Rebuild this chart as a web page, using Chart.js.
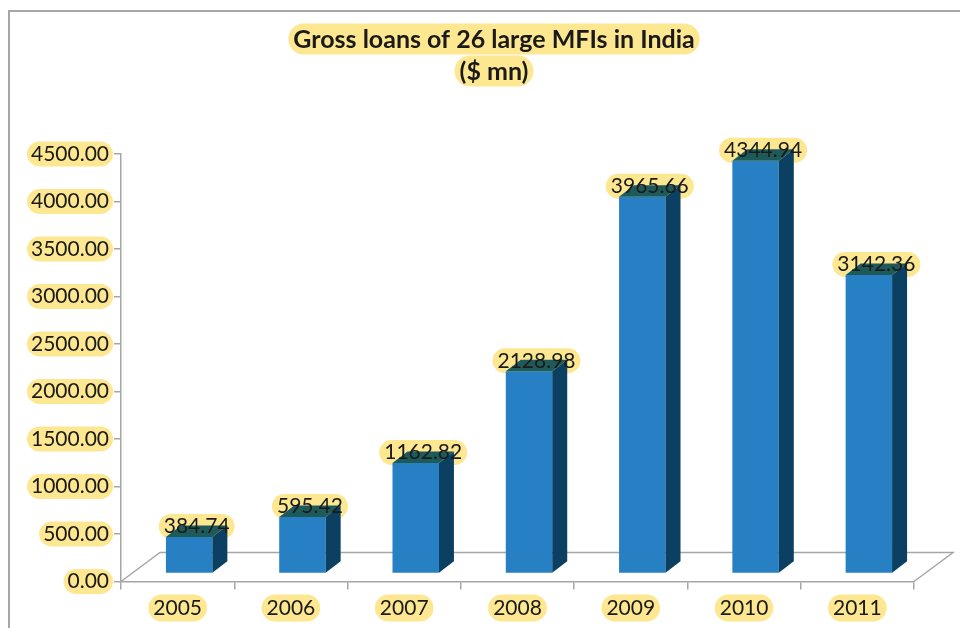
<!DOCTYPE html>
<html lang="en">
<head>
<meta charset="UTF-8">
<title>Gross loans of 26 large MFIs in India</title>
<style>
  body { margin: 0; background: #fff; }
  #wrap { width: 960px; height: 628px; }
</style>
</head>
<body>
<div id="wrap"><canvas id="loansChart" width="960" height="628"></canvas></div>
<script src="https://cdn.jsdelivr.net/npm/chart.js"></script>
<script>
// data
const years = ['2005', '2006', '2007', '2008', '2009', '2010', '2011'];
const grossLoans = [384.74, 595.42, 1162.82, 2128.98, 3965.66, 4344.94, 3142.36];
const yTicks = [0, 500, 1000, 1500, 2000, 2500, 3000, 3500, 4000, 4500];
const titleLines = ['Gross loans of 26 large MFIs in India', '($ mn)'];

const FONT = 'Lato, "Noto Sans", sans-serif';
const PILL = 'rgba(253, 231, 145, 1)';
const GREY = '#a6a6a6';
// 3d offsets
const SHIFT = { x: 11.5, y: -8 };
const DEPTH = { x: 15, y: -11.5 };
const FLOOR = { x: 39, y: -29 };

function pill(ctx, cx, cy, w, h) {
  const r = h / 2;
  ctx.beginPath();
  ctx.roundRect(cx - w / 2, cy - h / 2, w, h, r);
  ctx.fillStyle = PILL;
  ctx.fill();
}

const fancy = {
  id: 'fancy',
  beforeDraw(chart) {
    const ctx = chart.ctx;
    const area = chart.chartArea;
    const xs = chart.scales.x, ys = chart.scales.y;
    ctx.save();
    // outer frame
    ctx.strokeStyle = GREY;
    ctx.lineWidth = 2;
    ctx.strokeRect(9, 11, 1200, 1200);

    // title
    ctx.font = 'bold 25px ' + FONT;
    ctx.textAlign = 'center';
    ctx.textBaseline = 'middle';
    const tx = 494;
    titleLines.forEach((t, i) => {
      const w = ctx.measureText(t).width;
      pill(ctx, tx, 39 + i * 32, w + 10, 31);
    });
    ctx.fillStyle = '#1a1a1a';
    titleLines.forEach((t, i) => ctx.fillText(t, tx, 40 + i * 32));

    // pills behind tick labels
    ctx.font = '21px ' + FONT;
    ys.ticks.forEach((t, i) => {
      const w = ctx.measureText(t.label).width;
      const px = ys.getPixelForTick(i);
      pill(ctx, area.left - 12 - w / 2, px, w + 8, 25);
    });
    xs.ticks.forEach((t, i) => {
      const w = ctx.measureText(t.label).width;
      pill(ctx, xs.getPixelForTick(i), 608, w + 10, 27);
    });

    // floor
    const y0 = ys.getPixelForValue(0);
    ctx.strokeStyle = GREY;
    ctx.lineWidth = 1.5;
    ctx.beginPath();
    ctx.moveTo(area.left, y0);
    ctx.lineTo(area.left + FLOOR.x, y0 + FLOOR.y);
    ctx.lineTo(area.right + FLOOR.x, y0 + FLOOR.y);
    ctx.lineTo(area.right, y0);
    ctx.stroke();
    ctx.restore();
  },
  beforeDatasetsDraw(chart) {
    const ctx = chart.ctx;
    ctx.save();
    ctx.translate(SHIFT.x, SHIFT.y);
    ctx.font = '21px ' + FONT;
    chart.getDatasetMeta(0).data.forEach((bar, i) => {
      const txt = grossLoans[i].toFixed(2);
      const w = ctx.measureText(txt).width;
      pill(ctx, bar.x + DEPTH.x / 2, bar.y + DEPTH.y + 1, w + 10, 25);
    });
  },
  afterDatasetsDraw(chart) {
    const ctx = chart.ctx;
    chart.getDatasetMeta(0).data.forEach((bar) => {
      const l = bar.x - bar.width / 2, r = bar.x + bar.width / 2;
      const t = bar.y, b = bar.base;
      // side
      ctx.beginPath();
      ctx.moveTo(r, t);
      ctx.lineTo(r + DEPTH.x, t + DEPTH.y);
      ctx.lineTo(r + DEPTH.x, b + DEPTH.y);
      ctx.lineTo(r, b);
      ctx.closePath();
      ctx.fillStyle = '#0c4063';
      ctx.fill();
      // top
      ctx.beginPath();
      ctx.moveTo(l, t);
      ctx.lineTo(l + DEPTH.x, t + DEPTH.y);
      ctx.lineTo(r + DEPTH.x, t + DEPTH.y);
      ctx.lineTo(r, t);
      ctx.closePath();
      ctx.fillStyle = '#1f5a5b';
      ctx.fill();
    });
    // value labels
    ctx.font = '21px ' + FONT;
    ctx.textAlign = 'center';
    ctx.textBaseline = 'middle';
    ctx.fillStyle = '#1a1a1a';
    chart.getDatasetMeta(0).data.forEach((bar, i) => {
      ctx.fillText(grossLoans[i].toFixed(2), bar.x + DEPTH.x / 2, bar.y + DEPTH.y + 1);
    });
    ctx.restore();
  }
};

new Chart(document.getElementById('loansChart'), {
  type: 'bar',
  data: {
    labels: years,
    datasets: [{
      label: 'Gross loans',
      data: grossLoans,
      backgroundColor: '#2780c3',
      borderWidth: 0,
      categoryPercentage: 1,
      barPercentage: 0.41
    }]
  },
  options: {
    responsive: false,
    animation: false,
    layout: { padding: { top: 154, right: 46, bottom: 0, left: 0 } },
    plugins: {
      legend: { display: false },
      title: { display: false },
      tooltip: { enabled: false }
    },
    scales: {
      x: {
        offset: true,
        grid: { offset: true, drawOnChartArea: false, color: GREY, tickLength: 8, lineWidth: 1.5 },
        border: { color: GREY, width: 1.5 },
        ticks: { font: { family: FONT, size: 21 }, color: '#1a1a1a', padding: 6, maxRotation: 0 },
        afterFit(scale) { scale.height = 46.5; }
      },
      y: {
        min: 0,
        max: 4500,
        afterBuildTicks(scale) { scale.ticks = yTicks.map(v => ({ value: v })); },
        grid: { drawOnChartArea: false, color: GREY, tickLength: 7, lineWidth: 1.5 },
        border: { color: GREY, width: 1.5 },
        ticks: {
          font: { family: FONT, size: 21 },
          color: '#1a1a1a',
          padding: 5,
          callback: v => v.toFixed(2)
        },
        afterFit(scale) { scale.width = 121; }
      }
    }
  },
  plugins: [fancy]
});
</script>
</body>
</html>
